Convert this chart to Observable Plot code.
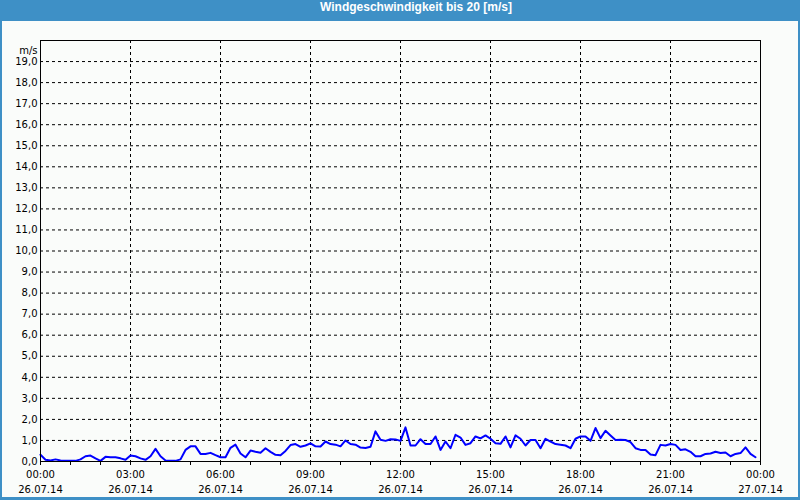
<!DOCTYPE html>
<html>
<head>
<meta charset="utf-8">
<script src="https://cdn.jsdelivr.net/npm/d3@7"></script>
<script src="https://cdn.jsdelivr.net/npm/@observablehq/plot@0.6"></script>
<style>
  html, body { margin: 0; padding: 0; background: #3e90c6; }
  #wrap { position: relative; width: 800px; height: 500px; background: #3e90c6; overflow: hidden; }
  #title { position: absolute; left: 0; top: 0; width: 832px; height: 21px; line-height: 20px;
           text-align: center; color: #fff; font: bold 12px "Liberation Sans", Arial, sans-serif; }
  #chart { position: absolute; left: 2px; top: 21px; width: 796px; height: 476px; background: #fafcfa; }
  #chart svg { display: block; background: #fafcfa; }
</style>
</head>
<body>
<div id="wrap">
  <div id="title">Windgeschwindigkeit bis 20 [m/s]</div>
  <div id="chart"></div>
</div>
<script>
// Time in minutes since 26.07.14 00:00 (10-minute steps)
const minutes = d3.range(0, 1440, 10);
// Wind speed in m/s
const speed = [
  0.32, 0.08, 0.05, 0.10, 0.05, 0.03, 0.03, 0.03, 0.10, 0.25, 0.28, 0.15,
  0.03, 0.22, 0.20, 0.20, 0.15, 0.08, 0.28, 0.25, 0.15, 0.08, 0.25, 0.60,
  0.25, 0.05, 0.03, 0.03, 0.10, 0.55, 0.72, 0.72, 0.36, 0.36, 0.41, 0.30,
  0.20, 0.20, 0.65, 0.80, 0.38, 0.20, 0.52, 0.46, 0.42, 0.63, 0.46, 0.32,
  0.30, 0.50, 0.78, 0.83, 0.70, 0.76, 0.86, 0.72, 0.71, 0.95, 0.83, 0.80,
  0.72, 1.00, 0.83, 0.80, 0.66, 0.64, 0.70, 1.43, 1.03, 0.98, 1.06, 1.05,
  0.98, 1.62, 0.76, 0.76, 1.06, 0.83, 0.83, 1.19, 0.55, 0.95, 0.63, 1.27,
  1.14, 0.79, 0.87, 1.19, 1.10, 1.24, 1.08, 0.87, 0.84, 1.19, 0.67, 1.24,
  1.08, 0.76, 1.02, 1.02, 0.63, 1.08, 0.95, 0.83, 0.80, 0.76, 0.63, 1.08,
  1.19, 1.19, 0.98, 1.59, 1.11, 1.46, 1.24, 1.02, 1.03, 1.02, 0.92, 0.63,
  0.55, 0.55, 0.33, 0.30, 0.79, 0.76, 0.83, 0.79, 0.55, 0.58, 0.46, 0.25,
  0.25, 0.36, 0.38, 0.46, 0.40, 0.43, 0.25, 0.36, 0.40, 0.67, 0.36, 0.20
];
const yTicks = d3.range(0, 20, 1);
const gridYValues = d3.range(1, 20, 1);
const majorX = d3.range(0, 1441, 180);
const minorX = d3.range(0, 1441, 60);
const timeLabel = m => String(Math.floor((m % 1440) / 60)).padStart(2, "0") + ":" + String(m % 60).padStart(2, "0");
const dateLabel = m => (m < 1440 ? "26.07.14" : "27.07.14");
const unitLabel = "m/s";

const data = minutes.map((m, i) => ({m, v: speed[i]}));

const chart = Plot.plot({
  width: 796,
  height: 476,
  marginLeft: 38,
  marginRight: 38,
  marginTop: 19,
  marginBottom: 36,
  style: {fontFamily: "'DejaVu Sans', Verdana, sans-serif", fontSize: "10px", color: "#000", background: "#fafcfa"},
  x: {domain: [0, 1440], axis: null},
  y: {domain: [0, 20], axis: null},
  marks: [
    Plot.gridY(gridYValues, {stroke: "#000", strokeOpacity: 1, strokeDasharray: "3,3"}),
    Plot.gridX(majorX.filter(d => d > 0 && d < 1440), {stroke: "#000", strokeOpacity: 1, strokeDasharray: "3,3"}),
    Plot.line(data, {x: "m", y: "v", stroke: "#0000ff", strokeWidth: 2}),
    Plot.frame({stroke: "#000", strokeWidth: 1}),
    Plot.axisY(yTicks, {tickSize: 0, tickPadding: 3, tickFormat: d => d.toFixed(1).replace(".", ","), label: null, fill: "#000"}),
    Plot.text([unitLabel], {frameAnchor: "top-left", text: d => d, textAnchor: "end", dx: -3, dy: 6, fill: "#000"}),
    Plot.axisX(minorX, {tickSize: 4, tickFormat: () => "", label: null, stroke: "#000"}),
    Plot.axisX(majorX, {tickSize: 0, tickPadding: 9, tickFormat: timeLabel, label: null, fill: "#000"}),
    Plot.axisX(majorX, {tickSize: 0, tickPadding: 24, tickFormat: dateLabel, label: null, fill: "#000"})
  ]
});
document.getElementById("chart").appendChild(chart);
</script>
</body>
</html>
